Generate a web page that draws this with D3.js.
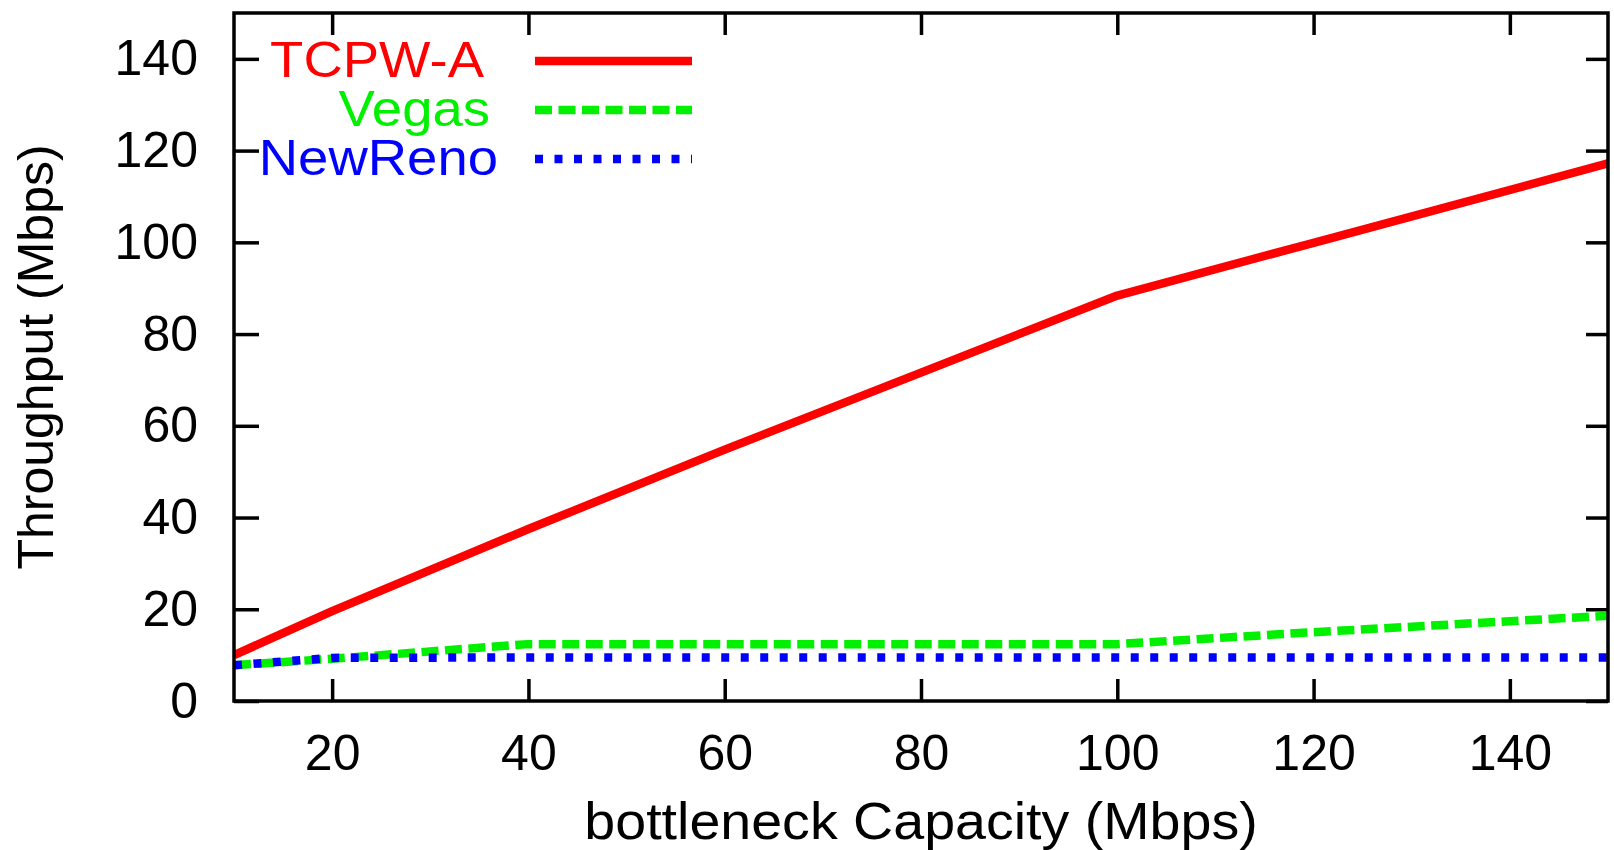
<!DOCTYPE html>
<html>
<head>
<meta charset="utf-8">
<script src="https://cdn.jsdelivr.net/npm/d3@7"></script>
<style>
body { margin: 0; background: #fff; }
text { font-family: "Liberation Sans", Arial, sans-serif; }
</style>
</head>
<body>
<svg></svg>
<script>
// capacity values (Mbps)
var capacity = [10, 20, 40, 60, 80, 100, 120, 150]
var tcpwA    = [10.0, 19.6, 37.5, 54.8, 71.6, 88.4, 99.9, 117.2]
var vegas    = [7.8, 9.2, 12.4, 12.4, 12.4, 12.4, 15.0, 18.6]
var newReno  = [7.8, 9.4, 9.5, 9.5, 9.5, 9.5, 9.5, 9.5]

var seriesNames = ["TCPW-A", "Vegas", "NewReno"]
var seriesColors = ["#ff0000", "#00f000", "#0000ff"]
var seriesDash = ["none", "17,6.5", "8,11.5"]

var xTicks = [20, 40, 60, 80, 100, 120, 140]
var yTicks = [0, 20, 40, 60, 80, 100, 120, 140]

var screen = {width:1614,height:850}
var margins = {top:13,right:6,bottom:149,left:234}
var stretch = 1.09
// right edge of each legend label (gnuplot's own estimate)
var legendRight = [484, 490, 498]

var width = screen.width - margins.left - margins.right;
var height = screen.height - margins.top - margins.bottom;

var svg = d3.select("svg")
    .attr("width",screen.width)
    .attr("height",screen.height)

var graph = svg.append("g")
    .attr("id","graph")
    .attr("transform","translate("+margins.left+","+margins.top+")");

var xScale = d3.scaleLinear()
                .domain([10,150])
                .range([0,width])

var yScale = d3.scaleLinear()
                .domain([0,150])
                .range([height,0])

var styleAxis = function(g)
{
    g.select(".domain").remove();
    g.selectAll(".tick line")
        .attr("stroke","#000")
        .attr("stroke-width",3.5);
    g.selectAll(".tick text")
        .attr("fill","#000")
        .style("font-size","50px");
}

// bottom axis with inward ticks
graph.append("g")
    .attr("transform","translate(0,"+height+")")
    .call(d3.axisBottom(xScale).tickValues(xTicks).tickSizeInner(-22).tickSizeOuter(0).tickPadding(33))
    .call(styleAxis)

// top mirror ticks
graph.append("g")
    .call(d3.axisTop(xScale).tickValues(xTicks).tickSizeInner(-22).tickSizeOuter(0).tickFormat(""))
    .call(styleAxis)

graph.append("g")
    .call(d3.axisLeft(yScale).tickValues(yTicks).tickSizeInner(-25).tickSizeOuter(0).tickPadding(36))
    .call(styleAxis)

graph.append("g")
    .attr("transform","translate("+width+",0)")
    .call(d3.axisRight(yScale).tickValues(yTicks).tickSizeInner(-22).tickSizeOuter(0).tickFormat(""))
    .call(styleAxis)

graph.append("clipPath")
    .attr("id","plotClip")
    .append("rect")
    .attr("width",width)
    .attr("height",height)

var allSeries = [tcpwA, vegas, newReno]

var line = d3.line()
    .x(function(d,i){return xScale(capacity[i])})
    .y(function(d){return yScale(d)})

graph.append("g")
    .attr("clip-path","url(#plotClip)")
    .selectAll("path")
    .data(allSeries)
    .enter()
    .append("path")
    .attr("d",function(s){return line(s)})
    .attr("fill","none")
    .attr("stroke",function(s,i){return seriesColors[i]})
    .attr("stroke-width",8.5)
    .attr("stroke-dasharray",function(s,i){return seriesDash[i]})
    .attr("stroke-linejoin","round")

// frame
graph.append("rect")
    .attr("width",width)
    .attr("height",height)
    .attr("fill","none")
    .attr("stroke","#000")
    .attr("stroke-width",3.5)

// legend
var legend = svg.append("g").attr("id","legend")
var rows = legend.selectAll("g")
    .data(seriesNames)
    .enter()
    .append("g")
    .attr("transform",function(d,i){return "translate(0,"+(77+i*49)+")"})

rows.append("text")
    .attr("transform",function(d,i){return "translate("+legendRight[i]+",0) scale("+stretch+",1)"})
    .attr("text-anchor","end")
    .style("font-size","50px")
    .attr("fill",function(d,i){return seriesColors[i]})
    .text(function(d){return d})

rows.append("line")
    .attr("x1",535)
    .attr("x2",692)
    .attr("y1",-16)
    .attr("y2",-16)
    .attr("stroke",function(d,i){return seriesColors[i]})
    .attr("stroke-width",8.5)
    .attr("stroke-dasharray",function(d,i){return seriesDash[i]})

// axis titles
svg.append("text")
    .attr("transform","translate("+(margins.left+width/2)+",839) scale("+stretch+",1)")
    .attr("text-anchor","middle")
    .style("font-size","51px")
    .text("bottleneck Capacity (Mbps)")

svg.append("text")
    .attr("transform","translate(53,"+(margins.top+height/2)+") rotate(-90)")
    .attr("text-anchor","middle")
    .style("font-size","50px")
    .text("Throughput (Mbps)")
</script>
</body>
</html>
